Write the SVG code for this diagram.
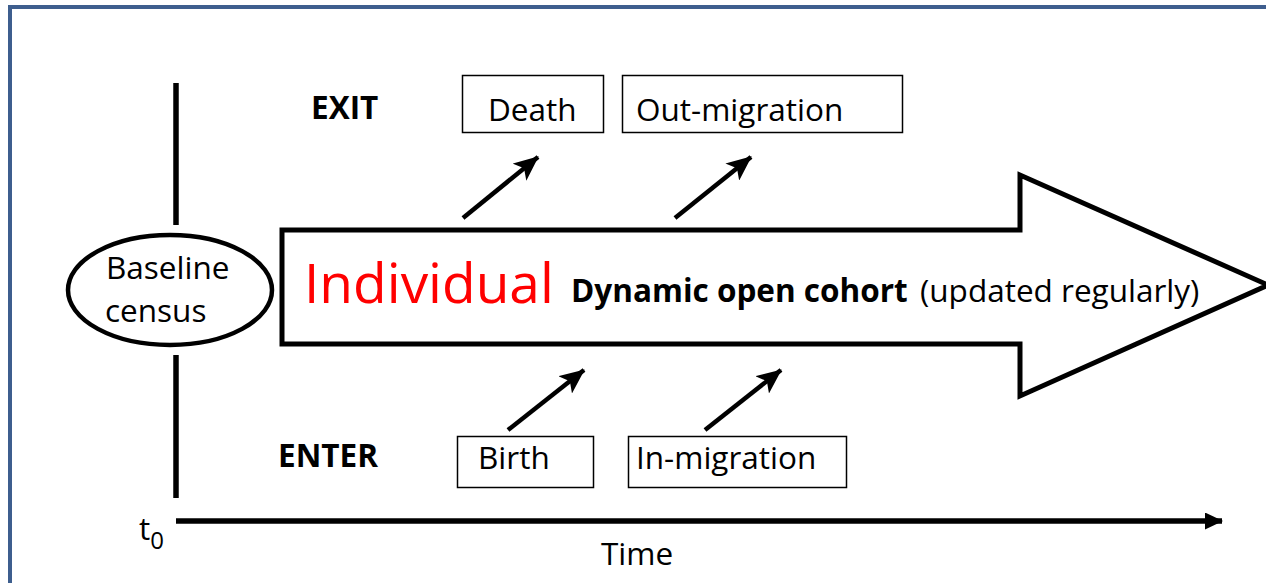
<svg xmlns="http://www.w3.org/2000/svg" width="1266" height="583" viewBox="0 0 1266 583">
<style>
  text { font-family: "Open Sans", "Noto Sans", "Liberation Sans", sans-serif; font-size: 31.5px; fill: #000; }
  .b { font-weight: bold; }
  .red { fill: #ff0000; font-size: 55px; }
  .box { fill: #fff; stroke: #000; stroke-width: 1.5; }
  .thick { stroke: #000; stroke-width: 5.5; fill: none; }
  .arr { stroke: #000; stroke-width: 4.5; fill: none; marker-end: url(#head); }
</style>
<defs>
  <marker id="head" markerUnits="userSpaceOnUse" viewBox="0 0 25 22" refX="24" refY="11" markerWidth="25" markerHeight="22" orient="auto">
    <path d="M0,0 L25,11 L0,22 L6,11 z" fill="#000"/>
  </marker>
  <marker id="thead" markerUnits="userSpaceOnUse" viewBox="0 0 18 17" refX="17" refY="8.5" markerWidth="18" markerHeight="17" orient="auto">
    <path d="M0,0 L18,8.5 L0,17 z" fill="#000"/>
  </marker>
</defs>
<rect x="0" y="0" width="1266" height="583" fill="#fff"/>
<rect id="frame" x="10" y="7" width="1280" height="600" fill="none" stroke="#3e5e8e" stroke-width="4"/>

<g id="connectors">
  <line class="thick" x1="176" y1="83" x2="176" y2="225"/>
  <line class="thick" x1="176" y1="355" x2="176" y2="498"/>
  <line x1="176" y1="521" x2="1222" y2="521" stroke="#000" stroke-width="5.5" marker-end="url(#thead)"/>
  <line class="arr" x1="463" y1="218" x2="538" y2="157"/>
  <line class="arr" x1="675" y1="218" x2="751" y2="157"/>
  <line class="arr" x1="508" y1="430" x2="584" y2="370"/>
  <line class="arr" x1="705" y1="430" x2="781" y2="370"/>
</g>

<g id="baseline">
  <ellipse cx="170" cy="290" rx="102" ry="55" fill="#fff" stroke="#000" stroke-width="4.5"/>
  <text x="106" y="279">Baseline</text>
  <text x="105" y="322">census</text>
</g>

<g id="cohort">
  <polygon points="282,230 1020,230 1020,175 1268,285 1020,396 1020,344 282,344" fill="#fff" stroke="#000" stroke-width="5"/>
  <text class="red" x="304" y="303">Individual</text>
  <text class="b" x="571" y="302" font-size="30.8">Dynamic open cohort</text>
  <text x="920" y="302" font-size="32.4">(updated regularly)</text>
</g>

<g id="exit"><text class="b" x="311" y="119">EXIT</text></g>
<g id="enter"><text class="b" x="278" y="467">ENTER</text></g>

<g id="death">
  <rect class="box" x="462.5" y="75.5" width="141" height="57"/>
  <text x="488" y="121">Death</text>
</g>
<g id="outmigration">
  <rect class="box" x="622.5" y="75.5" width="280" height="57"/>
  <text x="636" y="121" font-size="32">Out-migration</text>
</g>
<g id="birth">
  <rect class="box" x="457.5" y="436.5" width="136" height="51"/>
  <text x="478" y="469">Birth</text>
</g>
<g id="inmigration">
  <rect class="box" x="628.5" y="436.5" width="218" height="51"/>
  <text x="636" y="469">In-migration</text>
</g>

<g id="time">
  <text x="139" y="540" font-size="34">t<tspan font-size="24" dy="9">0</tspan></text>
  <text x="601" y="565">Time</text>
</g>
</svg>
